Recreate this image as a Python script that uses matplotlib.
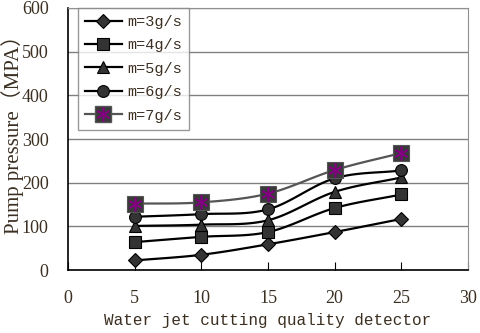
import numpy as np
import matplotlib
matplotlib.use("Agg")
import matplotlib.pyplot as plt

plt.rcParams['font.family'] = ['Liberation Mono', 'DejaVu Sans']

x = [5, 10, 15, 20, 25]
m3 = [22, 35, 59, 87, 117]
m4 = [64, 76, 87, 142, 173]
m5 = [101, 104, 114, 179, 212]
m6 = [122, 128, 139, 210, 228]
m7 = [152, 155, 175, 229, 268]
labels = ['m=3g/s', 'm=4g/s', 'm=5g/s', 'm=6g/s', 'm=7g/s']

txt_col = '#3b2f22'


def smooth(xs, ys, n=30):
    # catmull-rom curve through the points, like excel smoothed lines
    xs = np.asarray(xs, float)
    ys = np.asarray(ys, float)
    px = np.concatenate([[2 * xs[0] - xs[1]], xs, [2 * xs[-1] - xs[-2]]])
    py = np.concatenate([[2 * ys[0] - ys[1]], ys, [2 * ys[-1] - ys[-2]]])
    ox, oy = [], []
    t = np.linspace(0, 1, n)
    for i in range(1, len(px) - 2):
        for p, out in ((px, ox), (py, oy)):
            p0, p1, p2, p3 = p[i - 1], p[i], p[i + 1], p[i + 2]
            out.extend(0.5 * (2 * p1 + (-p0 + p2) * t
                              + (2 * p0 - 5 * p1 + 4 * p2 - p3) * t ** 2
                              + (-p0 + 3 * p1 - 3 * p2 + p3) * t ** 3))
    return ox, oy


fig = plt.figure(figsize=(4.8, 3.33), dpi=100)
ax = fig.add_axes([0.1417, 0.189, 0.8333, 0.787])

series = [m3, m4, m5, m6]
markers = ['D', 's', '^', 'o']
msizes = [7.5, 8.5, 8.5, 8.5]
handles = []
for ys, mk, ms, lab in zip(series, markers, msizes, labels):
    sx, sy = smooth(x, ys)
    ax.plot(sx, sy, color='black', lw=1.6, zorder=3)
    ax.plot(x, ys, ls='none', marker=mk, ms=ms, mfc='#333333', mec='black', mew=0.8, zorder=4)
    h, = ax.plot([], [], color='black', lw=1.6, marker=mk, ms=ms, mfc='#333333', mec='black', mew=0.8)
    handles.append(h)

sx, sy = smooth(x, m7)
ax.plot(sx, sy, color='#555555', lw=1.6, zorder=3)
ax.plot(x, m7, ls='none', marker='s', ms=11, mfc='#3a3a3a', mec='#555555', mew=0.8, zorder=4)
ax.plot(x, m7, ls='none', marker=(6, 2, 0), ms=10, mec='#800080', mew=1.2, zorder=5)
h1, = ax.plot([], [], color='#555555', lw=1.6, marker='s', ms=11, mfc='#3a3a3a', mec='#555555')
h2, = ax.plot([], [], ls='none', marker=(6, 2, 0), ms=10, mec='#800080', mew=1.2)
handles.append((h1, h2))

ax.set_xlim(0, 30)
ax.set_ylim(0, 600)
ax.set_xticks([0, 5, 10, 15, 20, 25, 30])
ax.set_yticks([0, 100, 200, 300, 400, 500, 600])
ax.yaxis.grid(True, color='#808080', lw=1)
ax.set_axisbelow(True)
ax.tick_params(axis='x', direction='in', length=6, pad=14, color='black')
ax.tick_params(axis='y', length=0, pad=14)
for lab in ax.get_xticklabels() + ax.get_yticklabels():
    lab.set_family('Liberation Serif')
    lab.set_fontsize(13)
    lab.set_color(txt_col)
for s in ['top', 'right']:
    ax.spines[s].set_color('#909090')
for s in ['left', 'bottom']:
    ax.spines[s].set_color('black')
    ax.spines[s].set_linewidth(1.2)

ax.set_xlabel('Water jet cutting quality detector', fontsize=11.5, color=txt_col)
ax.xaxis.set_label_coords(0.5, -0.165)

fig.text(13 / 480, 1 - 130 / 333, 'Pump pressure\uff08MPA\uff09', rotation=90,
         ha='center', va='center', fontsize=15, color=txt_col,
         family=['Liberation Serif', 'Noto Sans CJK SC'])

leg = ax.legend(handles, labels, loc='upper left', bbox_to_anchor=(0.025, 1.0),
                borderaxespad=0, fontsize=11, frameon=True, fancybox=False,
                handlelength=2.4, labelspacing=0.62, borderpad=0.45, handletextpad=0.4,
                labelcolor=txt_col)
leg.get_frame().set_edgecolor('#808080')
leg.get_frame().set_linewidth(1)

fig.savefig('out.png', dpi=100)
